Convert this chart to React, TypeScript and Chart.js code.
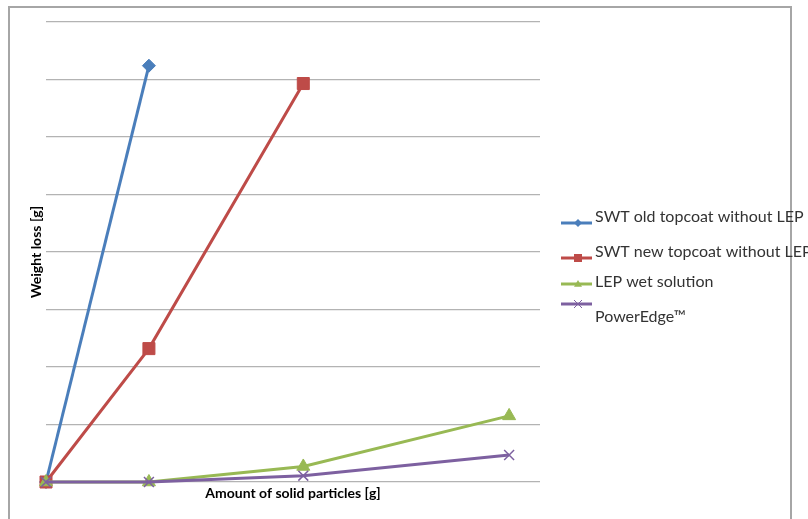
import React, { useEffect, useRef } from "react";
import { Chart, registerables } from "chart.js";

Chart.register(...registerables);

const seriesNames = [
  "SWT old topcoat without LEP",
  "SWT new topcoat without LEP",
  "LEP wet solution",
  "PowerEdge™",
];
const xOld = [0, 2];
const yOld = [0, 7.24];
const xNew = [0, 2, 5];
const yNew = [0, 2.32, 6.93];
const xLep = [0, 2, 5, 9];
const yLep = [0, 0, 0.27, 1.15];
const xPower = [0, 2, 5, 9];
const yPower = [0, 0, 0.11, 0.47];
const xTitle = "Amount of solid particles [g]";
const yTitle = "Weight loss [g]";

const colors = ["#4a7ebb", "#be4b48", "#98b954", "#7d60a0"];
const shapes = ["rectRot", "rect", "triangle", "crossRot"];
const radii = [6.5, 8.5, 7.5, 7];

const pts = (xs: number[], ys: number[]) => xs.map((x, i) => ({ x, y: ys[i] }));

export default function App() {
  const ref = useRef<HTMLCanvasElement | null>(null);
  useEffect(() => {
    document.body.style.margin = "0";
    const font = "Lato, 'Open Sans', sans-serif";
    const drawPt = (ctx: any, shape: string, x: number, y: number, r: number, c: string) => {
      ctx.save();
      ctx.fillStyle = c;
      ctx.strokeStyle = c;
      ctx.lineWidth = 1;
      ctx.beginPath();
      if (shape === "rectRot") {
        ctx.moveTo(x, y - r);
        ctx.lineTo(x + r, y);
        ctx.lineTo(x, y + r);
        ctx.lineTo(x - r, y);
        ctx.closePath();
        ctx.fill();
      } else if (shape === "rect") {
        ctx.fillRect(x - r, y - r, 2 * r, 2 * r);
      } else if (shape === "triangle") {
        ctx.moveTo(x, y - r);
        ctx.lineTo(x + r, y + r * 0.7);
        ctx.lineTo(x - r, y + r * 0.7);
        ctx.closePath();
        ctx.fill();
      } else {
        ctx.moveTo(x - r, y - r);
        ctx.lineTo(x + r, y + r);
        ctx.moveTo(x + r, y - r);
        ctx.lineTo(x - r, y + r);
        ctx.stroke();
      }
      ctx.restore();
    };
    const decor = {
      id: "decor",
      beforeDraw(chart: any) {
        const ctx = chart.ctx;
        ctx.save();
        ctx.fillStyle = "#ffffff";
        ctx.fillRect(0, 0, chart.width, chart.height);
        ctx.strokeStyle = "#a6a6a6";
        ctx.lineWidth = 2;
        ctx.strokeRect(9, 7, 782, 540);
        ctx.restore();
      },
      afterDraw(chart: any) {
        const ctx = chart.ctx;
        ctx.save();
        ctx.fillStyle = "#000000";
        ctx.font = `bold 14px ${font}`;
        ctx.textAlign = "center";
        ctx.textBaseline = "middle";
        ctx.fillText(xTitle, 293, 493);
        ctx.translate(36, 252);
        ctx.rotate(-Math.PI / 2);
        ctx.fillText(yTitle, 0, 0);
        ctx.restore();

        const lineYs = [223, 258, 284, 304];
        const textYs = [217, 252, 282, 317];
        ctx.save();
        ctx.font = `16px ${font}`;
        ctx.textBaseline = "middle";
        ctx.textAlign = "left";
        chart.data.datasets.forEach((ds: any, i: number) => {
          const ly = lineYs[i];
          ctx.strokeStyle = colors[i];
          ctx.lineWidth = 3;
          ctx.beginPath();
          ctx.moveTo(561, ly);
          ctx.lineTo(592, ly);
          ctx.stroke();
          drawPt(ctx, shapes[i], 578, ly, 4, colors[i]);
          ctx.fillStyle = "#333333";
          ctx.fillText(ds.label, 595, textYs[i]);
        });
        ctx.restore();
      },
    };
    const data = [pts(xOld, yOld), pts(xNew, yNew), pts(xLep, yLep), pts(xPower, yPower)];
    const chart = new Chart(ref.current!, {
      type: "scatter",
      data: {
        datasets: data.map((d, i) => ({
          label: seriesNames[i],
          data: d,
          showLine: true,
          clip: false as any,
          borderColor: colors[i],
          backgroundColor: colors[i],
          borderWidth: 3,
          pointStyle: shapes[i] as any,
          pointRadius: radii[i],
          pointBorderWidth: i === 3 ? 1.5 : 1,
          order: 4 - i,
        })),
      },
      options: {
        animation: false,
        responsive: false,
        layout: { padding: { left: 46, right: 268, top: 22, bottom: 29 } },
        plugins: { legend: { display: false }, tooltip: { enabled: false } },
        scales: {
          x: {
            type: "linear",
            min: 0,
            max: 9.6,
            ticks: { display: false },
            grid: { display: false },
            border: { display: false },
          },
          y: {
            min: 0,
            max: 8,
            ticks: { display: false, stepSize: 1 },
            grid: { color: "#b3b3b3", lineWidth: 1.3, drawTicks: false },
            border: { display: false },
          },
        },
      },
      plugins: [decor],
    });
    return () => chart.destroy();
  }, []);
  return <canvas ref={ref} width={808} height={519} style={{ display: "block" }} />;
}
